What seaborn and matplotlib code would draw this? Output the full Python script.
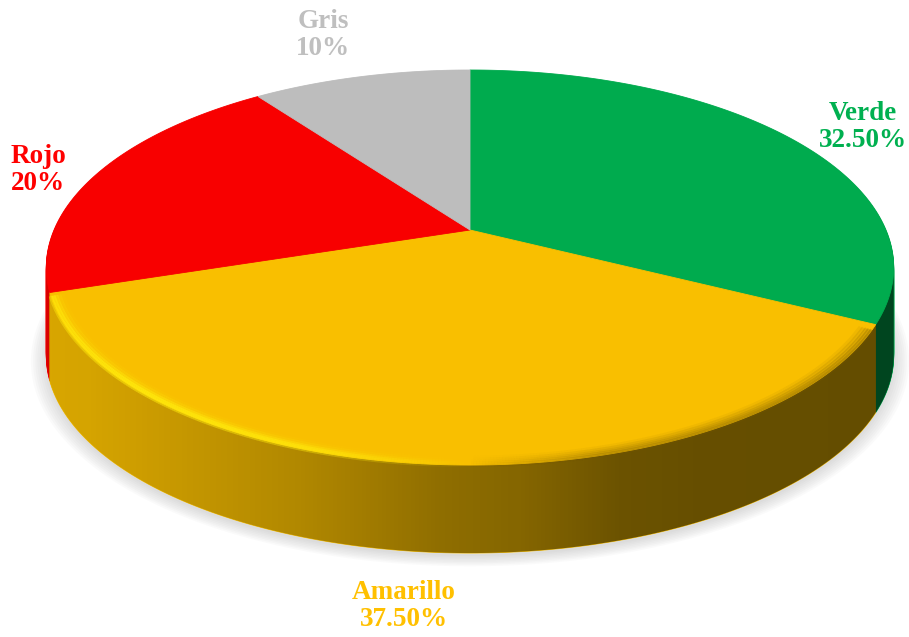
import numpy as np
import matplotlib
matplotlib.use("Agg")
import matplotlib.pyplot as plt
import matplotlib.transforms as mtransforms
from matplotlib.path import Path
from matplotlib.patches import PathPatch
from matplotlib.collections import LineCollection
import seaborn as sns

# ---------------- data ----------------
categories = ["Verde", "Amarillo", "Rojo", "Gris"]
values = [32.5, 37.5, 20.0, 10.0]
value_labels = ["32.50%", "37.50%", "20%", "10%"]
face_colors = ["#00AB4E", "#F9BF00", "#F80000", "#BDBDBD"]
label_colors = ["#00B050", "#FFC000", "#FF0000", "#BFBFBF"]

# ---------------- layout / style ----------------
label_pos = [(863, 127), (404, 606), (38, 170), (323, 35)]
W, H = 909, 637
CX, CY = 470, 230          # projected pie centre (px)
A, B, K = 416, 190.4, 0.19  # perspective parameters
DEPTH = 88                  # thickness of the disc (px)

sns.set_theme(style="white")
plt.rcParams["font.family"] = ["Liberation Serif", "DejaVu Serif"]

fig = plt.figure(figsize=(W / 100, H / 100), dpi=100)
ax = fig.add_axes([0, 0, 1, 1])


class Persp(mtransforms.Transform):
    """Perspective view of the unit disc lying on a tilted plane."""
    input_dims = 2
    output_dims = 2
    is_separable = False
    has_inverse = False

    def __init__(self, dy=0.0, scale=1.0):
        super().__init__()
        self.dy = dy
        self.scale = scale

    def transform_non_affine(self, values):
        xy = np.asarray(values, float).reshape(-1, 2)
        u = xy[:, 0] * self.scale
        v = xy[:, 1] * self.scale
        w = 1 + K * v
        return np.column_stack([CX + A * u / w, CY + self.dy - B * v / w])

    def transform_path_non_affine(self, path):
        pts = []
        for seg, code in path.iter_bezier():
            if code == Path.MOVETO:
                pts.append(seg.control_points[0])
            else:
                t = np.linspace(0, 1, 40)[1:]
                pts.extend(list(seg(t)))
        pts = np.asarray(pts)
        out = self.transform_non_affine(pts)
        return Path(np.vstack([out, out[:1]]), closed=True)


def disc_points(phis, dy=0.0, scale=1.0):
    u = np.sin(phis)
    v = np.cos(phis)
    return Persp(dy, scale).transform_non_affine(np.column_stack([u, v]))


# ---------------- soft shadow ----------------
phi_r = np.arccos(-K)
for s in np.linspace(1.035, 1.0, 8):
    ph = np.linspace(0, 2 * np.pi, 400)
    pts = disc_points(ph, dy=DEPTH + 3, scale=s)
    ax.add_patch(PathPatch(Path(pts, closed=False), facecolor="#808080",
                           edgecolor="none", alpha=0.035, zorder=0.5))

# ---------------- side walls (stacked pie layers) ----------------
for d in np.arange(DEPTH, 0, -1.0):
    wedges, _ = ax.pie(values, colors=face_colors, startangle=90,
                       counterclock=False, radius=1, center=(0, 0),
                       wedgeprops=dict(linewidth=0.6, edgecolor="none"))
    tr = Persp(dy=d) + ax.transData
    for w, c in zip(wedges, face_colors):
        w.set_edgecolor(c)
        w.set_transform(tr)
        w.set_zorder(1)

# horizontal lighting gradient over the side walls
gx = np.arange(W)
fac = np.interp(gx, [40, 90, 300, 440, 520, 620, 700, 909],
                [0.87, 0.855, 0.71, 0.575, 0.53, 0.43, 0.41, 0.40])
grad = np.zeros((1, W, 4))
grad[..., 3] = 1 - fac
ph_b = np.linspace(phi_r, 2 * np.pi - phi_r, 300)
ph_t = np.linspace(2 * np.pi - phi_r, 2 * np.pi + phi_r, 300)
sil = np.vstack([disc_points(ph_b, dy=DEPTH), disc_points(ph_t, dy=0.5)])
sil_path = Path(np.vstack([sil, sil[:1]]), closed=True)
im = ax.imshow(grad, extent=[0, W, H, 0], aspect="auto", zorder=2,
               interpolation="bilinear")
im.set_clip_path(sil_path, ax.transData)

# ---------------- top face ----------------
wedges, _ = ax.pie(values, colors=face_colors, startangle=90,
                   counterclock=False, radius=1, center=(0, 0),
                   wedgeprops=dict(linewidth=0.6))
tr = Persp(dy=0) + ax.transData
for w, c in zip(wedges, face_colors):
    w.set_edgecolor(c)
    w.set_transform(tr)
    w.set_zorder(3)

# soft bevel on the front rim of the yellow slice
ph = np.linspace(np.deg2rad(118.5), np.deg2rad(251.0), 400)
bevel = [(1.000, 3.0, 0.55, 0.30), (0.994, 3.0, 0.75, 0.26),
         (0.988, 3.0, 0.45, 0.20), (0.981, 3.0, 0.20, 0.13),
         (0.974, 3.0, 0.08, 0.07)]
for r, lw, a_hi, a_lo in bevel:
    pts = Persp(0, r).transform_non_affine(np.column_stack([np.sin(ph), np.cos(ph)]))
    segs = np.stack([pts[:-1], pts[1:]], axis=1)
    xm = (pts[:-1, 0] + pts[1:, 0]) / 2
    cols = []
    for x in xm:
        if x < 470:
            a = np.interp(x, [50, 130, 300, 470], [0.8, 1.0, 0.75, 0.0])
            cols.append((1.0, 0.92, 0.05, a * a_hi))
        else:
            a = np.interp(x, [470, 600, 860], [0.0, 0.8, 1.0])
            cols.append((0.45, 0.34, 0.0, a * a_lo))
    ax.add_collection(LineCollection(segs, colors=cols, linewidths=lw,
                                     zorder=4, capstyle="butt"))

# ---------------- labels ----------------
for cat, lab, col, (x, y) in zip(categories, value_labels, label_colors, label_pos):
    ax.text(x, y, f"{cat}\n{lab}", ha="center", va="center", fontsize=19.5,
            fontweight="bold", color=col, linespacing=1.1, zorder=5)

ax.set_aspect("auto")
ax.set_xlim(0, W)
ax.set_ylim(H, 0)
ax.axis("off")
fig.savefig("out.png", dpi=100, facecolor="white")
